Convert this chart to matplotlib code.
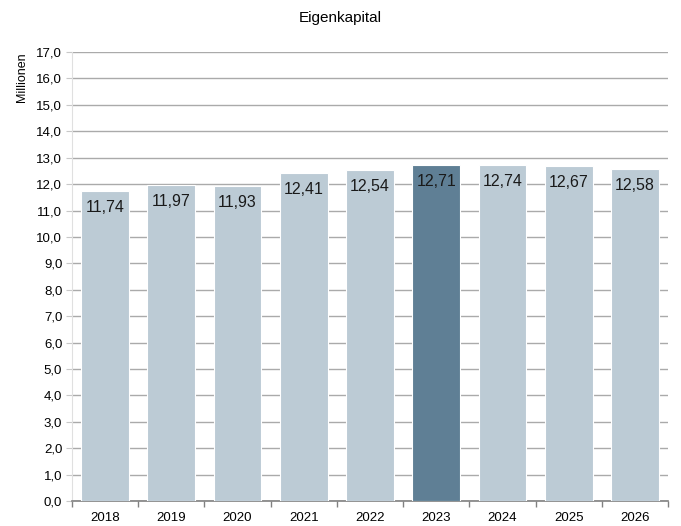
import matplotlib
matplotlib.use("Agg")
import matplotlib.pyplot as plt
import numpy as np

years = ["2018", "2019", "2020", "2021", "2022", "2023", "2024", "2025", "2026"]
values = [11.74, 11.97, 11.93, 12.41, 12.54, 12.71, 12.74, 12.67, 12.58]
highlight = "2023"
title = "Eigenkapital"
ylabel = "Millionen"

plt.rcParams['font.family'] = ['Liberation Sans', 'DejaVu Sans']

fig = plt.figure(figsize=(6.81, 5.26), dpi=100)
ax = fig.add_axes([0.1057, 0.0475, 0.8753, 0.8535])

x = np.arange(len(years))
colors = ["#5f7f95" if y == highlight else "#bccbd5" for y in years]
ax.bar(x, values, width=0.72, color=colors, edgecolor="white", linewidth=0.8, zorder=3)

for xi, v in zip(x, values):
    ax.annotate(f"{v:.2f}".replace(".", ","), (xi, v), xytext=(0, -6.5),
                textcoords="offset points", ha="center", va="top",
                fontsize=11.5, color="#1a1a1a", zorder=4)

ax.set_xlim(-0.5, len(years) - 0.5)
ax.set_ylim(0, 17)
ax.set_yticks(np.arange(0, 18, 1))
ax.set_yticklabels([f"{t:.1f}".replace(".", ",") for t in np.arange(0, 18, 1)], fontsize=9.5)
ax.set_xticks(x)
ax.set_xticklabels(years, fontsize=9.5)
ax.set_xticks(np.arange(-0.5, len(years), 1), minor=True)
ax.tick_params(axis="x", which="major", length=0, pad=8)
ax.tick_params(axis="x", which="minor", length=4, color="#808080", width=1)
ax.tick_params(axis="y", length=4, color="#c8c8c8", pad=3)

ax.grid(axis="y", color="#aaaaaa", linewidth=1, zorder=0)
for s in ["top", "right"]:
    ax.spines[s].set_visible(False)
ax.spines["left"].set_color("#e0e0e0")
ax.spines["bottom"].set_color("#808080")
ax.spines["bottom"].set_linewidth(1.2)

fig.text(0.5, 0.965, title, ha="center", va="center", fontsize=11)
fig.text(0.032, 0.90, ylabel, rotation=90, ha="center", va="top", fontsize=9)

fig.savefig("out.png", dpi=100)
